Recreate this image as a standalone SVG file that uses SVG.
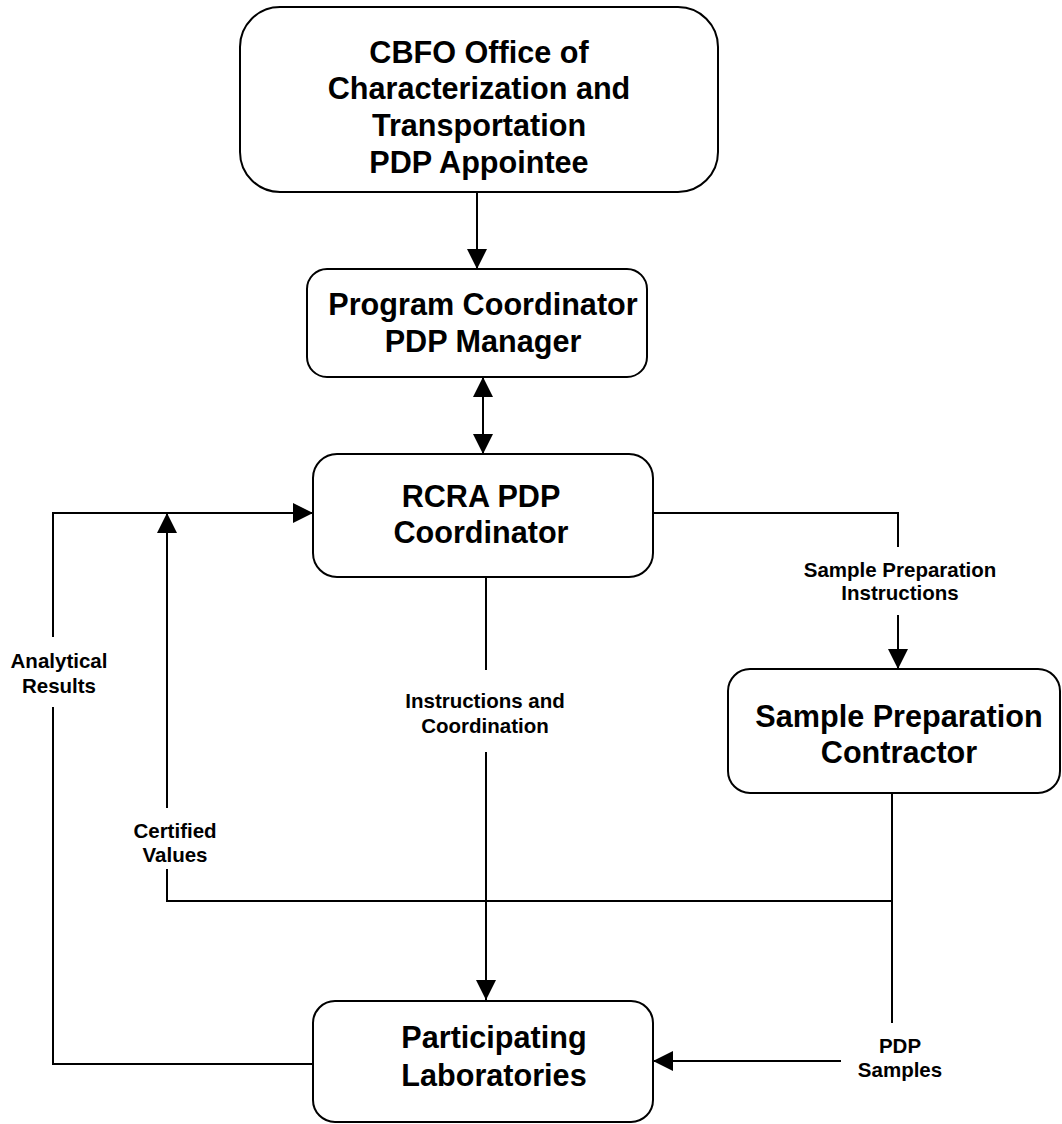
<svg xmlns="http://www.w3.org/2000/svg" width="1062" height="1124" viewBox="0 0 1062 1124">
<defs>
<style>
.box{fill:#fff;stroke:#000;stroke-width:2}
.t{font-family:"Liberation Sans",Arial,sans-serif;font-weight:bold;font-size:30.6px;text-anchor:middle;fill:#000}
.l{font-family:"Liberation Sans",Arial,sans-serif;font-weight:bold;font-size:20.5px;text-anchor:middle;fill:#000}
.c{fill:none;stroke:#000;stroke-width:2}
</style>
<marker id="ah" viewBox="0 0 20 20" refX="20" refY="10" markerWidth="20" markerHeight="20" markerUnits="userSpaceOnUse" orient="auto-start-reverse">
<path d="M0,0 L20,10 L0,20 Z" fill="#000"/>
</marker>
</defs>
<rect width="1062" height="1124" fill="#fff"/>
<g id="connectors">
<line class="c" x1="477" y1="192" x2="477" y2="269" marker-end="url(#ah)"/>
<line class="c" x1="483" y1="377" x2="483" y2="454" marker-start="url(#ah)" marker-end="url(#ah)"/>
<polyline class="c" points="53,637 53,513 313,513" marker-end="url(#ah)"/>
<polyline class="c" points="53,707 53,1064 313,1064"/>
<line class="c" x1="167" y1="808" x2="167" y2="513" marker-end="url(#ah)"/>
<polyline class="c" points="167,869 167,901 892,901"/>
<polyline class="c" points="653,513 898,513 898,547"/>
<line class="c" x1="898" y1="615" x2="898" y2="669" marker-end="url(#ah)"/>
<line class="c" x1="486" y1="577" x2="486" y2="670"/>
<line class="c" x1="486" y1="752" x2="486" y2="1000" marker-end="url(#ah)"/>
<line class="c" x1="892" y1="793" x2="892" y2="1023"/>
<line class="c" x1="841" y1="1061" x2="653" y2="1061" marker-end="url(#ah)"/>
<text class="l" x="59" y="668">Analytical</text>
<text class="l" x="59" y="693">Results</text>
<text class="l" x="175" y="838">Certified</text>
<text class="l" x="175" y="862">Values</text>
<text class="l" x="485" y="708">Instructions and</text>
<text class="l" x="485" y="733">Coordination</text>
<text class="l" x="900" y="577">Sample Preparation</text>
<text class="l" x="900" y="600">Instructions</text>
<text class="l" x="900" y="1053">PDP</text>
<text class="l" x="900" y="1077">Samples</text>
</g>
<g id="node-cbfo">
<rect class="box" x="240" y="7" width="478" height="185" rx="40" ry="40"/>
<text class="t" x="479" y="63">CBFO Office of</text>
<text class="t" x="479" y="99">Characterization and</text>
<text class="t" x="479" y="136">Transportation</text>
<text class="t" x="479" y="173">PDP Appointee</text>
</g>
<g id="node-program">
<rect class="box" x="307" y="269" width="340" height="108" rx="20" ry="20"/>
<text class="t" x="483" y="315">Program Coordinator</text>
<text class="t" x="483" y="352">PDP Manager</text>
</g>
<g id="node-rcra">
<rect class="box" x="313" y="454" width="340" height="123" rx="24" ry="24"/>
<text class="t" x="481" y="507">RCRA PDP</text>
<text class="t" x="481" y="543">Coordinator</text>
</g>
<g id="node-contractor">
<rect class="box" x="728" y="669" width="332" height="124" rx="22" ry="22"/>
<text class="t" x="899" y="727">Sample Preparation</text>
<text class="t" x="899" y="763">Contractor</text>
</g>
<g id="node-labs">
<rect class="box" x="313" y="1001" width="340" height="121" rx="22" ry="22"/>
<text class="t" x="494" y="1048">Participating</text>
<text class="t" x="494" y="1086">Laboratories</text>
</g>
</svg>
